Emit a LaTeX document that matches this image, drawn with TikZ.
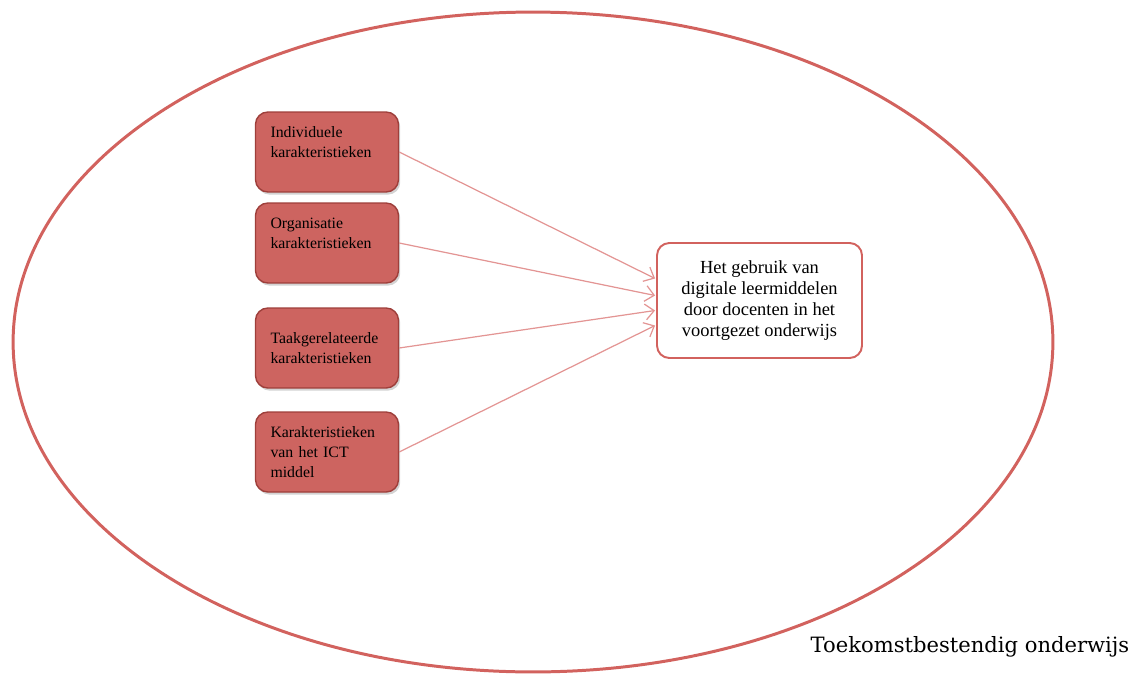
\documentclass[tikz,border=0pt]{standalone}
\usepackage{fontspec}
\setmainfont{Liberation Serif}
\newfontfamily\labelfont{DejaVu Serif}
\usetikzlibrary{calc}
\usetikzlibrary{arrows.meta}
\usetikzlibrary{shadows}

\definecolor{rood}{HTML}{CD6460}
\definecolor{donkerrood}{HTML}{9E3F3B}
\definecolor{lijnrood}{HTML}{D2625E}
\definecolor{pijlrood}{HTML}{E39594}

\begin{document}
\begin{tikzpicture}[x=0.02cm, y=-0.02cm,
  factor/.style={draw=donkerrood, fill=rood, line width=0.8pt, rounded corners=7pt,
    minimum height=1.6cm, inner xsep=0.3cm, text width=2.26cm, align=left,
    font=\fontsize{9}{11.4}\selectfont,
    drop shadow={shadow xshift=1pt, shadow yshift=-1.5pt, opacity=0.35}},
  doel/.style={draw=lijnrood, fill=white, line width=1.1pt, rounded corners=7pt,
    minimum width=4.1cm, minimum height=2.3cm, align=center,
    font=\fontsize{10.5}{12}\selectfont},
  pijl/.style={pijlrood, line width=0.7pt, -{Straight Barb[length=5pt, width=9pt]}}]
\useasboundingbox (0,0) rectangle (1146,673);
\draw[lijnrood, line width=1.7pt] (533,342) ellipse [x radius=10.4cm, y radius=6.6cm];

\node[factor] (individueel) at (327,152) {Individuele\\karakteristieken\\\mbox{}};
\node[factor] (organisatie) at (327,243) {Organisatie\\karakteristieken\\\mbox{}};
\node[factor] (taak) at (327,348) {Taakgerelateerde\\karakteristieken};
\node[factor] (ict) at (327,452) {Karakteristieken\\van het ICT\\middel};

\node[doel] (gebruik) at (759.5,300.5) {Het gebruik van\\digitale leermiddelen\\door docenten in het\\voortgezet onderwijs};

\foreach \bron/\dy in {individueel/-22,organisatie/-5,taak/10,ict/25} {
 \draw[pijl] (\bron.east) -- ($(gebruik.west)+(-1,\dy)$);
}

\node[font=\labelfont\fontsize{12}{14}\selectfont] (titel) at (970,647) {Toekomstbestendig onderwijs};
\end{tikzpicture}
\end{document}
